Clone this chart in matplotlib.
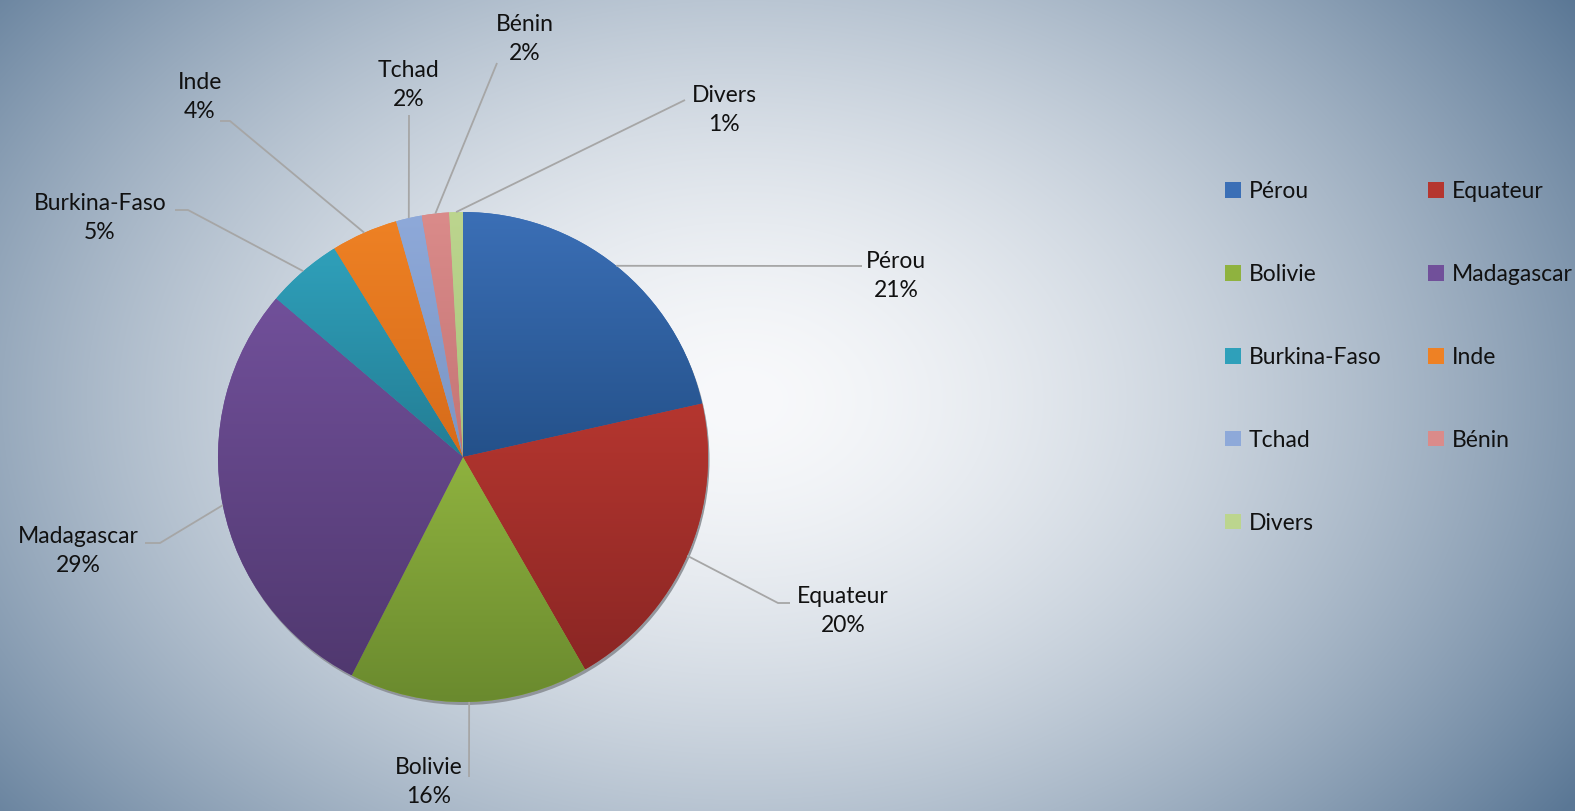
import numpy as np
import matplotlib
matplotlib.use("Agg")
import matplotlib.pyplot as plt
from matplotlib.colors import LinearSegmentedColormap, to_rgb
from matplotlib.patches import Patch, Circle

# ---------------- data ----------------
categories = ["Pérou", "Equateur", "Bolivie", "Madagascar", "Burkina-Faso",
              "Inde", "Tchad", "Bénin", "Divers"]
values = [21.5, 20.2, 15.8, 28.7, 5.0, 4.4, 1.7, 1.8, 0.9]
pct_labels = ["21%", "20%", "16%", "29%", "5%", "4%", "2%", "2%", "1%"]

# ---------------- styles ----------------
top_colors = ["#3b6fb6", "#b5362f", "#8fb23f", "#71509a", "#2fa0ba",
              "#ee8124", "#8ea9d9", "#da8b8a", "#bcd58e"]
bot_colors = ["#24518a", "#8a2624", "#6a8a2e", "#50386f", "#237d94",
              "#d66b1a", "#7b95c3", "#c47474", "#a8c47c"]

W, H = 1575, 811
FONT = ["Lato", "DejaVu Sans"]
FS = 16.5

def Y(y):  # pixel row (top-down) -> data y (bottom-up)
    return H - y

# label layout: text centre (x, y), elbow points (pixel, top-down)
label_pos = {
    "Pérou":        ((896, 276), [(862, 266)]),
    "Equateur":     ((843, 611), [(778, 603), (790, 603)]),
    "Bolivie":      ((429, 782), [(469, 777)]),
    "Madagascar":   ((78, 551),  [(160, 543), (145, 543)]),
    "Burkina-Faso": ((100, 218), [(188, 210), (175, 210)]),
    "Inde":         ((200, 97),  [(230, 121), (220, 121)]),
    "Tchad":        ((409, 85),  [(409, 115)]),
    "Bénin":        ((525, 39),  [(497, 63)]),
    "Divers":       ((724, 110), [(685, 100)]),
}

fig = plt.figure(figsize=(W / 100, H / 100), dpi=100)
ax = fig.add_axes([0, 0, 1, 1])
ax.set_xlim(0, W)
ax.set_ylim(0, H)
ax.axis("off")

# ---------------- background radial gradient ----------------
xx, yy = np.meshgrid(np.arange(W), np.arange(H))
cxb, cyb = 740, 400
d = np.sqrt(((xx - cxb) / 900.0) ** 2 + ((yy - cyb) / 640.0) ** 2)
t = np.clip(d, 0, 1.12) / 1.12
t = t ** 1.6
c0 = np.array(to_rgb("#f8f9fb"))
c1 = np.array(to_rgb("#5a7795"))
bg = c0[None, None, :] * (1 - t[..., None]) + c1[None, None, :] * t[..., None]
ax.imshow(bg, extent=[0, W, 0, H], origin="upper", aspect="auto", zorder=0)

# ---------------- pie ----------------
cx, cy, R = 463, Y(457), 245
ax.add_patch(Circle((cx + 1.5, cy - 3), R, color="#8a8e94", alpha=0.9, zorder=1, lw=0))
wedges, _ = ax.pie(values, center=(cx, cy), radius=R, startangle=90,
                   counterclock=False, colors=top_colors,
                   wedgeprops=dict(linewidth=0), frame=False)
for w in wedges:
    w.set_zorder(2)

grad = np.linspace(0, 1, 256).reshape(-1, 1)
for w, ct, cb in zip(wedges, top_colors, bot_colors):
    ext = w.get_path().get_extents()
    cmap = LinearSegmentedColormap.from_list("g", [cb, ct])
    im = ax.imshow(grad, cmap=cmap, origin="lower", aspect="auto",
                   extent=[ext.x0, ext.x1, ext.y0, ext.y1], zorder=3)
    im.set_clip_path(w)

ax.set_xlim(0, W)
ax.set_ylim(0, H)
ax.set_aspect("auto")

# ---------------- labels with leader lines ----------------
for w, name, pct in zip(wedges, categories, pct_labels):
    mid = np.deg2rad((w.theta1 + w.theta2) / 2)
    sx, sy = cx + R * np.cos(mid), cy + R * np.sin(mid)
    (tx, ty), elbows = label_pos[name]
    xs = [sx] + [e[0] for e in elbows]
    ys = [sy] + [Y(e[1]) for e in elbows]
    ax.plot(xs, ys, color="#a6a6a6", lw=1.3, zorder=4, solid_capstyle="butt")
    ax.text(tx, Y(ty), name + "\n" + pct, ha="center", va="center",
            fontsize=FS, family=FONT, color="#111111", linespacing=1.45, zorder=5)

# ---------------- legend (row-wise order, like the original) ----------------
ncol = 2
order = [i for c in range(ncol) for i in range(c, len(categories), ncol)]
handles = [Patch(facecolor=top_colors[i], edgecolor="none") for i in order]
labels = [categories[i] for i in order]
leg = ax.legend(handles, labels, ncol=ncol, loc="upper left",
                bbox_to_anchor=(1225 / W, 1 - 181 / H), frameon=False,
                prop=dict(family=FONT, size=FS), handlelength=0.68,
                handleheight=0.68, handletextpad=0.35, labelspacing=2.7,
                columnspacing=2.05, borderaxespad=0, borderpad=0)
for txt in leg.get_texts():
    txt.set_color("#111111")

fig.savefig("out.png", dpi=100)
